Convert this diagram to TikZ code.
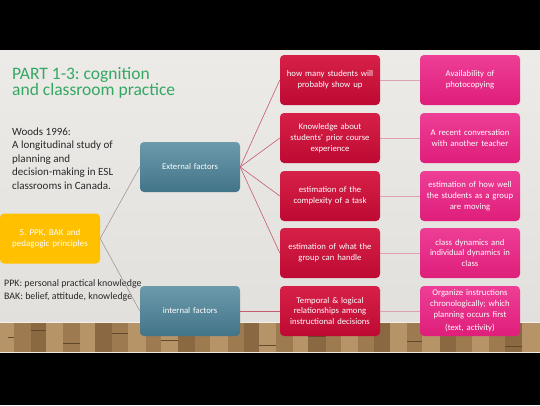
\documentclass[tikz,border=0pt]{standalone}
\usepackage{fontspec}
\setmainfont{Carlito}
\frenchspacing
\definecolor{bgtop}{RGB}{236,235,232}
\definecolor{bgbot}{RGB}{226,224,220}
\definecolor{titlegreen}{RGB}{52,168,98}
\definecolor{tealtop}{RGB}{108,154,172}
\definecolor{tealbot}{RGB}{66,116,136}
\definecolor{redtop}{RGB}{214,32,72}
\definecolor{redbot}{RGB}{190,10,50}
\definecolor{pinktop}{RGB}{238,62,150}
\definecolor{pinkbot}{RGB}{222,30,122}
\definecolor{yellowbox}{RGB}{255,192,0}
\definecolor{floorA}{RGB}{158,122,80}
\definecolor{floorB}{RGB}{182,148,104}
\definecolor{floorC}{RGB}{138,104,66}
\definecolor{grayline}{RGB}{165,150,150}
\definecolor{redline}{RGB}{196,92,112}
\definecolor{pinkline}{RGB}{222,160,178}
\definecolor{bodytext}{RGB}{40,40,40}
\begin{document}
\begin{tikzpicture}[x=1pt,y=-1pt,
  box/.style={rounded corners=4pt, minimum width=100pt, minimum height=50pt,
    text width=96pt, align=center, inner sep=2pt, text=white,
    font=\fontsize{8.7}{10.8}\selectfont},
  tealbox/.style={box, top color=tealtop, bottom color=tealbot},
  redbox/.style={box, top color=redtop, bottom color=redbot},
  pinkbox/.style={box, top color=pinktop, bottom color=pinkbot},
  yellbox/.style={box, fill=yellowbox, font=\fontsize{9}{10.5}\selectfont},
  link/.style={line width=0.6pt},
  plank/.style={draw=floorC!70!black, line width=0.3pt}]
\useasboundingbox (0,0) rectangle (540,405);
\fill[black] (0,0) rectangle (540,405);
\shade[top color=bgtop, bottom color=bgbot] (0,50) rectangle (540,322);
% floor
\fill[floorA] (0,322) rectangle (540,353);
\foreach \xa/\xb/\c in {0/14/floorB,14/31/floorA,31/46/floorC,46/63/floorB,63/80/floorA,80/95/floorB,95/112/floorC,112/128/floorA,128/146/floorB,146/161/floorA,161/178/floorB,178/195/floorC,195/210/floorA,210/228/floorB,228/244/floorA,244/259/floorC,259/276/floorB,276/293/floorA,293/308/floorB,308/326/floorC,326/341/floorA,341/358/floorB,358/374/floorA,374/390/floorC,390/407/floorB,407/422/floorA,422/440/floorB,440/456/floorC,456/472/floorA,472/489/floorB,489/505/floorA,505/522/floorC,522/540/floorB}
  {\fill[\c] (\xa,322) rectangle (\xb,353); \draw[plank] (\xb,322) -- (\xb,353);}
\foreach \xa/\xb/\yy in {8/14/337,31/46/330,63/80/343,112/128/333,161/178/340,210/228/331,259/276/345,308/326/336,358/374/329,407/422/341,456/472/334,505/522/346}
  {\draw[plank] (\xa,\yy) -- (\xb,\yy);}
\fill[white!85!floorB] (0,321.5) rectangle (540,323);
\fill[white!80!floorB] (0,352) rectangle (540,353);

% texts
\node[anchor=base west, text=titlegreen, font=\fontsize{17.5}{15}\selectfont, inner sep=0pt] (title1) at (12,79) {PART 1-3: cognition};
\node[anchor=base west, text=titlegreen, font=\fontsize{17.5}{15}\selectfont, inner sep=0pt] (title2) at (12,95) {and classroom practice};
\node[anchor=base west, text=bodytext, font=\fontsize{11}{13.6}\selectfont, align=left, inner sep=0pt] (woods) at (12,189.4)
  {Woods 1996:\\A longitudinal study of\\planning and\\decision-making in ESL\\classrooms in Canada.};
\node[anchor=base west, text=bodytext, font=\fontsize{9.9}{12.6}\selectfont, align=left, inner sep=0pt] (ppk) at (4,299)
  {PPK: personal practical knowledge\\BAK: belief, attitude, knowledge};

% nodes
\node[yellbox] (root) at (50,238.5) {5. PPK, BAK and\\pedagogic principles};
\node[tealbox] (ext) at (190,167) {External factors};
\node[tealbox] (int) at (190,311) {internal factors};

\node[redbox] (r1) at (330,80) {how many students will\\probably show up};
\node[redbox] (r2) at (330,138) {Knowledge about\\students' prior course\\experience};
\node[redbox] (r3) at (330,196) {estimation of the\\complexity of a task};
\node[redbox] (r4) at (330,253) {estimation of what the\\group can handle};
\node[redbox] (r5) at (330,311) {Temporal \& logical\\relationships among\\instructional decisions};

\node[pinkbox] (p1) at (470,80) {Availability of\\photocopying};
\node[pinkbox] (p2) at (470,138) {A recent conversation\\with another teacher};
\node[pinkbox] (p3) at (470,196) {estimation of how well\\the students as a group\\are moving};
\node[pinkbox] (p4) at (470,253) {class dynamics and\\individual dynamics in\\class};
\node[pinkbox] (p5) at (470,311) {Organize instructions\\chronologically; which\\planning occurs first\\[2.5pt](text, activity)};

% connectors
\draw[link, grayline] (root.east) -- (ext.west);
\draw[link, grayline] (root.east) -- (int.west);
\foreach \r in {r1,r2,r3,r4} {\draw[link, redline] (ext.east) -- (\r.west);}
\draw[link, redline] (int.east) -- (r5.west);
\foreach \i in {1,...,5} {\draw[link, pinkline] (r\i.east) -- (p\i.west);}
\end{tikzpicture}
\end{document}
